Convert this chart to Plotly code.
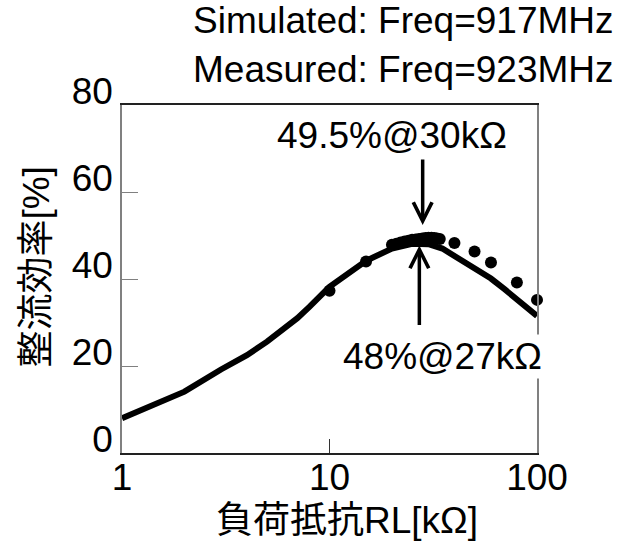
import plotly.graph_objects as go

# simulated rectifier efficiency (Freq=917MHz)
sim_rl = [1, 2, 3, 4, 5, 6, 7, 8, 9, 10, 15, 20, 25, 27, 30, 35, 40, 50, 60, 70, 80, 90, 100]
sim_eff = [8.0, 14.1, 19.2, 22.5, 25.6, 28.5, 31.0, 33.6, 35.9, 38.2, 44.2, 47.0, 48.1, 48.2,
           48.0, 47.0, 45.3, 42.8, 40.1, 37.6, 35.3, 33.4, 31.5]

# measured rectifier efficiency (Freq=923MHz)
meas_rl = [10, 15, 20, 21, 22, 23, 24, 25, 26, 27, 28, 29, 30, 31, 32, 33, 34,
           40, 50, 60, 80, 100]
meas_eff = [37.3, 44.0, 47.9, 48.1, 48.4, 48.6, 48.8, 49.0, 49.1, 49.2, 49.3, 49.4, 49.5,
            49.5, 49.4, 49.3, 49.2, 48.3, 46.3, 43.8, 39.2, 35.2]

x_ticks = [1, 10, 100]
y_ticks = [0, 20, 40, 60, 80]

FONT = "Arial, 'Liberation Sans', 'Noto Sans CJK JP', sans-serif"
FS = 37

fig = go.Figure()
fig.add_trace(go.Scatter(x=sim_rl, y=sim_eff, mode="lines",
                         line=dict(color="black", width=6), cliponaxis=False))
fig.add_trace(go.Scatter(x=meas_rl, y=meas_eff, mode="markers",
                         marker=dict(color="black", size=12), cliponaxis=False))

fig.update_layout(
    width=620, height=549,
    margin=dict(l=122, r=83, t=105, b=96),
    paper_bgcolor="white", plot_bgcolor="white",
    showlegend=False,
    font=dict(family=FONT, size=FS, color="black"),
)

fig.update_xaxes(type="log", range=[0, 2], tickvals=x_ticks, ticktext=[str(v) for v in x_ticks],
                 ticks="inside", ticklen=14, tickwidth=1, tickcolor="#333",
                 showline=True, linecolor="#222", linewidth=1.5, mirror=True,
                 showgrid=False, zeroline=False, tickfont=dict(size=FS),
                 ticklabelstandoff=-9)
fig.update_yaxes(range=[0, 80], tickvals=y_ticks,
                 ticks="inside", ticklen=16, tickwidth=1, tickcolor="#808080",
                 showline=True, linecolor="#808080", linewidth=1.5, mirror=True,
                 showgrid=False, zeroline=False, tickfont=dict(size=FS),
                 ticklabelshift=-14)

# axis titles
fig.add_annotation(text="負荷抵抗RL[kΩ]", xref="paper", yref="paper", x=0.541, y=-0.195,
                   xanchor="center", yanchor="middle", showarrow=False, font=dict(size=FS))
fig.add_annotation(text="整流効率[%]", xref="paper", yref="paper", x=-0.207, y=0.533,
                   xanchor="center", yanchor="middle", textangle=-90, showarrow=False,
                   font=dict(size=FS))

# legend text at top right
fig.add_annotation(text="Simulated: Freq=917MHz", xref="paper", yref="paper", x=1.19, y=1.243,
                   xanchor="right", yanchor="middle", showarrow=False, font=dict(size=FS))
fig.add_annotation(text="Measured: Freq=923MHz", xref="paper", yref="paper", x=1.19, y=1.102,
                   xanchor="right", yanchor="middle", showarrow=False, font=dict(size=FS))

# peak arrows
fig.add_annotation(x=1.449, y=52.4, xref="x", yref="y", text="", showarrow=True,
                   ax=0, ay=-67, arrowhead=5, arrowwidth=3.5, arrowsize=1.05, arrowcolor="black")
fig.add_annotation(x=1.433, y=47.7, xref="x", yref="y", text="", showarrow=True,
                   ax=0, ay=81, arrowhead=5, arrowwidth=3.5, arrowsize=1.05, arrowcolor="black")
fig.add_annotation(text="49.5%@30kΩ", x=1.301, y=73.1, xref="x", yref="y",
                   xanchor="center", yanchor="middle", showarrow=False, font=dict(size=FS))
fig.add_annotation(text="48%@27kΩ", x=1.545, y=22.2, xref="x", yref="y",
                   xanchor="center", yanchor="middle", showarrow=False, font=dict(size=FS),
                   bgcolor="white")

fig.write_html("out.html", config={"displayModeBar": False},
               post_script="document.body.style.margin='0';")
